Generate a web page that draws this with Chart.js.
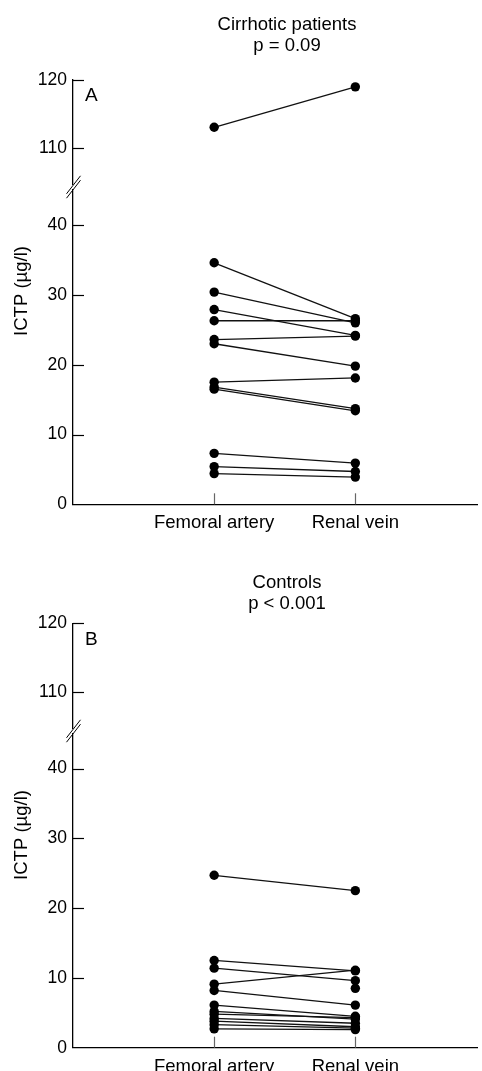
<!DOCTYPE html>
<html>
<head>
<meta charset="utf-8">
<script src="https://cdn.jsdelivr.net/npm/chart.js"></script>
<style>
  body { margin: 0; background: #fff; }
  .panel { position: absolute; left: 0; width: 482px; }
</style>
</head>
<body>
<div class="panel" style="top:0;height:535px"><canvas id="chartA"></canvas></div>
<div class="panel" style="top:535px;height:536px"><canvas id="chartB"></canvas></div>
<script>
// values (ICTP, µg/l)
var categories = ['Femoral artery', 'Renal vein'];
var lowTicks = [0, 10, 20, 30, 40];
var highTicks = [110, 120];

var cirrhoticFemoral = [113.1, 34.6, 30.4, 27.9, 26.3, 23.6, 23.0, 17.5, 16.8, 16.5, 7.3, 5.4, 4.4];
var cirrhoticRenal   = [119.0, 26.6, 26.0, 24.2, 26.3, 24.1, 19.8, 18.1, 13.7, 13.4, 5.9, 4.7, 3.9];

var controlFemoral = [24.7, 12.5, 11.4, 9.1, 8.2, 6.1, 5.2, 4.8, 4.2, 3.8, 3.3, 2.7, null];
var controlRenal   = [22.5, 11.0, 9.6, 11.1, 6.1, 4.5, 4.1, 4.3, 3.5, 3.0, 2.8, 2.6, 8.5];

var FONT = 'Liberation Sans, Arial, sans-serif';
Chart.defaults.font.family = FONT;
Chart.defaults.font.size = 17;
Chart.defaults.color = '#000';

function pairs(fem, ren) {
  var sets = [];
  for (var i = 0; i < fem.length; i++) {
    var pts = [];
    if (fem[i] !== null) pts.push({ x: 1, y: fem[i] });
    if (ren[i] !== null) pts.push({ x: 2, y: ren[i] });
    var hi = Math.max(fem[i] || 0, ren[i] || 0) > 100;
    sets.push({
      data: pts,
      yAxisID: hi ? 'yHigh' : 'yLow',
      borderColor: '#111',
      borderWidth: 1.3,
      pointRadius: 4.7,
      pointBackgroundColor: '#000',
      pointBorderWidth: 0
    });
  }
  return sets;
}

// ticks inside the axis, axis break, titles and panel letter
var decor = {
  id: 'decor',
  afterDraw: function (chart) {
    var o = chart.options.plugins.decor;
    var c = chart.ctx, a = chart.chartArea;
    var lo = chart.scales.yLow, hi = chart.scales.yHigh, x = chart.scales.x;
    c.save();
    c.strokeStyle = '#000';
    c.lineWidth = 1.2;
    [lo, hi].forEach(function (s) {
      s.ticks.forEach(function (t) {
        if (t.value === 0) return;
        var y = Math.round(s.getPixelForValue(t.value)) + 0.5;
        c.beginPath(); c.moveTo(a.left, y); c.lineTo(a.left + 11, y); c.stroke();
      });
    });
    c.strokeStyle = '#666';
    x.ticks.forEach(function (t) {
      var px = Math.round(x.getPixelForValue(t.value)) + 0.5;
      c.beginPath(); c.moveTo(px, a.bottom); c.lineTo(px, a.bottom - 11); c.stroke();
    });
    // break marks
    var yb = hi.bottom;
    c.fillStyle = '#fff';
    c.fillRect(a.left - 2, yb - 2, 4, 4);
    c.strokeStyle = '#000';
    c.lineWidth = 1;
    [-2.2, 2.2].forEach(function (d) {
      c.beginPath();
      c.moveTo(a.left - 6.5, yb + d + 9);
      c.lineTo(a.left + 7.5, yb + d - 9);
      c.stroke();
    });
    // titles
    c.fillStyle = '#000';
    c.textAlign = 'center';
    c.textBaseline = 'middle';
    c.font = '18.5px ' + FONT;
    c.fillText(o.title[0], 287, o.titleY);
    c.fillText(o.title[1], 287, o.titleY + 21);
    c.font = '19px ' + FONT;
    c.textAlign = 'left';
    c.fillText(o.letter, a.left + 12, hi.getPixelForValue(120) + 16);
    c.font = '18.5px ' + FONT;
    c.translate(22, o.yTitleY);
    c.rotate(-Math.PI / 2);
    c.textAlign = 'center';
    c.fillText('ICTP (µg/l)', 0, 0);
    c.restore();
  }
};

function makeChart(id, fem, ren, top, canvasH, bottom, breakY, titleLines, titleY, letter, yTitleY) {
  var hiHeight = breakY - top;
  var loHeight = bottom - breakY;
  var hiMin = 120 - hiHeight / 6.85;
  var loMax = loHeight / 6.98;
  var tickFont = { size: 17.5, family: FONT };
  return new Chart(document.getElementById(id), {
    type: 'line',
    data: { datasets: pairs(fem, ren) },
    options: {
      responsive: true,
      maintainAspectRatio: false,
      animation: false,
      layout: { padding: { top: top, right: 0, bottom: 0, left: 0 } },
      plugins: {
        legend: { display: false },
        tooltip: { enabled: false },
        decor: { title: titleLines, titleY: titleY, letter: letter, yTitleY: yTitleY }
      },
      scales: {
        x: {
          type: 'linear', min: 0, max: 2.864,
          afterBuildTicks: function (s) { s.ticks = [{ value: 1 }, { value: 2 }]; },
          afterFit: function (s) { s.height = canvasH - bottom; },
          ticks: { callback: function (v) { return categories[v - 1]; }, padding: 8, font: { size: 18.5, family: FONT }, maxRotation: 0 },
          grid: { display: false, drawTicks: false },
          border: { color: '#000', width: 1.3 }
        },
        // stacked axes: the first one is placed at the bottom
        yLow: {
          type: 'linear', position: 'left', stack: 'y', stackWeight: loHeight,
          min: 0, max: loMax,
          afterBuildTicks: function (s) { s.ticks = lowTicks.map(function (v) { return { value: v }; }); },
          afterFit: function (s) { s.width = 73; },
          ticks: { padding: 6, font: tickFont },
          grid: { display: false, drawTicks: false },
          border: { color: '#000', width: 1.3 }
        },
        yHigh: {
          type: 'linear', position: 'left', stack: 'y', stackWeight: hiHeight,
          min: hiMin, max: 120,
          afterBuildTicks: function (s) { s.ticks = highTicks.map(function (v) { return { value: v }; }); },
          afterFit: function (s) { s.width = 73; },
          ticks: { padding: 6, font: tickFont },
          grid: { display: false, drawTicks: false },
          border: { color: '#000', width: 1.3 }
        }
      }
    },
    plugins: [decor]
  });
}

makeChart('chartA', cirrhoticFemoral, cirrhoticRenal, 80, 535, 504.3, 187,
  ['Cirrhotic patients', 'p = 0.09'], 25, 'A', 291);
makeChart('chartB', controlFemoral, controlRenal, 88.3, 536, 512.7, 196,
  ['Controls', 'p < 0.001'], 48, 'B', 300);
</script>
</body>
</html>
